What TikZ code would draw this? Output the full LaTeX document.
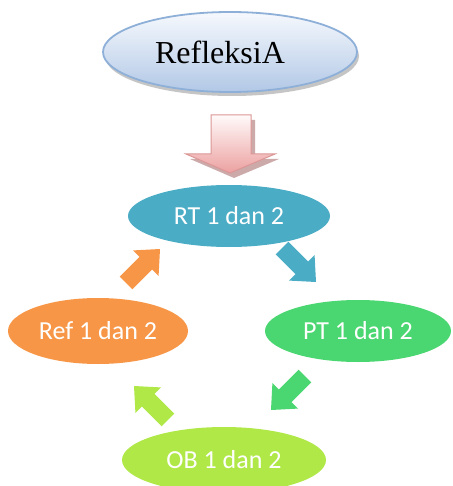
\documentclass[tikz,border=0pt]{standalone}
\usepackage{fontspec}
\setmainfont{Carlito}
\newfontfamily\titlefont{Liberation Serif}
\usetikzlibrary{shapes.geometric,shadows}
\definecolor{rtc}{RGB}{75,172,198}
\definecolor{refc}{RGB}{247,150,70}
\definecolor{ptc}{RGB}{74,214,112}
\definecolor{obc}{RGB}{176,232,72}
\definecolor{titletop}{RGB}{246,249,253}
\definecolor{titlebot}{RGB}{178,200,230}
\definecolor{titleline}{RGB}{142,176,216}
\definecolor{arrtop}{RGB}{255,250,250}
\definecolor{arrbot}{RGB}{236,160,160}
\definecolor{arrline}{RGB}{220,150,150}
\definecolor{arrshadow}{RGB}{205,170,170}
\begin{document}
\begin{tikzpicture}[x=1pt,y=-1pt,
  bubble/.style={ellipse, inner sep=0pt, text=white, font=\fontsize{26}{30}\selectfont},
  blockarrow/.pic={\path[pic actions] (0,0) -- (-20,18) -- (-20,9) -- (-48,9) -- (-48,-9) -- (-20,-9) -- (-20,-18) -- cycle;}
]
\useasboundingbox (0,0) rectangle (452,486);
\clip (0,0) rectangle (452,486);
% title
\node[ellipse, minimum width=254pt, minimum height=80pt, inner sep=0pt,
  top color=titletop, bottom color=titlebot, draw=titleline, line width=1.8pt,
  drop shadow={shadow xshift=2pt, shadow yshift=-4pt, fill=black!45, opacity=0.5},
  font=\titlefont\fontsize{32}{36}\selectfont] (title) at (230,52) {RefleksiA\rule{20pt}{0pt}};
% big down arrow
\coordinate (down) at (230,173);
\path[fill=arrshadow, shift={(4,5)}] (230,173) -- (275,154) -- (251,154) -- (251,115) -- (211,115) -- (211,154) -- (186,154) -- cycle;
\path[draw=arrline, line width=1pt, top color=arrtop, bottom color=arrbot] (down) -- (275,154) -- (251,154) -- (251,115) -- (211,115) -- (211,154) -- (186,154) -- cycle;
% bubbles
\node[bubble, fill=rtc, minimum width=202pt, minimum height=62pt] (rt) at (229,216) {RT 1 dan 2};
\node[bubble, fill=refc, minimum width=180pt, minimum height=66pt] (ref) at (98,331) {Ref 1 dan 2};
\node[bubble, fill=ptc, minimum width=186pt, minimum height=62pt] (pt) at (358,331) {PT 1 dan 2};
\node[bubble, fill=obc, minimum width=204pt, minimum height=66pt] (ob) at (224,460) {OB 1 dan 2};
% cycle arrows
\coordinate (a1) at (316,282);
\coordinate (a2) at (271,410);
\coordinate (a3) at (134,386);
\coordinate (a4) at (160,249);
\pic[fill=rtc, rotate=-45] at (a1) {blockarrow};
\pic[fill=ptc, rotate=-135] at (a2) {blockarrow};
\pic[fill=obc, rotate=135] at (a3) {blockarrow};
\pic[fill=refc, rotate=45] at (a4) {blockarrow};
\end{tikzpicture}
\end{document}
